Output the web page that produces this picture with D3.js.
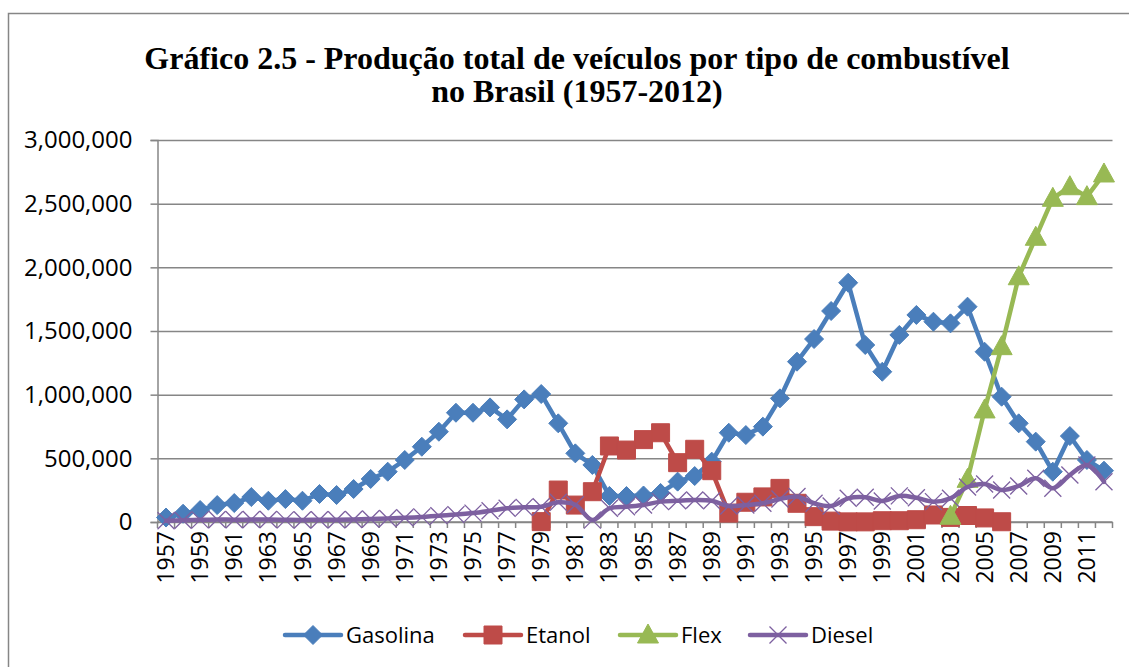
<!DOCTYPE html>
<html>
<head>
<meta charset="utf-8">
<script src="https://cdn.jsdelivr.net/npm/d3@7"></script>
<style>
  html, body { margin: 0; padding: 0; background: #ffffff; }
  svg { display: block; }
</style>
</head>
<body>
<svg id="chart" width="1129" height="667"></svg>
<script>
const years = d3.range(1957, 2013).map(String);
const tickLabels = years.filter((d, i) => i % 2 === 0);
const yTicks = [0, 500000, 1000000, 1500000, 2000000, 2500000, 3000000];
const titleLines = ["Gráfico 2.5 - Produção total de veículos por tipo de combustível", "no Brasil (1957-2012)"];
const seriesNames = ["Gasolina", "Etanol", "Flex", "Diesel"];

const gasolina = [35000, 65000, 94000, 133000, 149000, 196000, 167000, 180000, 167000, 220000,
  212000, 259000, 338000, 395000, 487000, 591000, 709000, 858000, 858000, 900000,
  806000, 963000, 1005000, 775000, 539000, 448000, 205000, 204000, 208000, 228000,
  317000, 361000, 474000, 701000, 683000, 749000, 971000, 1259000, 1437000, 1657000,
  1879000, 1390000, 1180000, 1469000, 1626000, 1573000, 1560000, 1691000, 1337000, 984000,
  775000, 631000, 395000, 675000, 487000, 403000];

const etanol = [null, null, null, null, null, null, null, null, null, null,
  null, null, null, null, null, null, null, null, null, null,
  null, null, 3000, 251000, 133000, 238000, 597000, 565000, 647000, 701000,
  466000, 571000, 403000, 70000, 155000, 197000, 264000, 147000, 42000, 7000,
  1000, 1000, 10000, 10000, 18000, 55000, 36000, 51000, 32000, 2000,
  null, null, null, null, null, null];

const flex = [null, null, null, null, null, null, null, null, null, null,
  null, null, null, null, null, null, null, null, null, null,
  null, null, null, null, null, null, null, null, null, null,
  null, null, null, null, null, null, null, null, null, null,
  null, null, null, null, null, null, 45000, 335000, 880000, 1377000,
  1926000, 2236000, 2542000, 2633000, 2555000, 2733000];

const diesel = [10000, 14000, 17000, 20000, 18000, 19000, 19000, 17000, 16000, 18000,
  18000, 20000, 24000, 28000, 33000, 40000, 50000, 58000, 70000, 88000,
  108000, 115000, 120000, 155000, 135000, 15000, 108000, 120000, 133000, 160000,
  167000, 173000, 167000, 126000, 133000, 147000, 180000, 200000, 147000, 125000,
  186000, 194000, 165000, 205000, 190000, 160000, 186000, 275000, 298000, 251000,
  283000, 343000, 265000, 369000, 448000, 316000];

const seriesValues = [gasolina, etanol, flex, diesel];
const colors = ["#4A7EBB", "#BE4B48", "#98B954", "#7D60A0"];
const markers = ["diamond", "square", "triangle", "x"];

const svg = d3.select("#chart");
const FONT = "'Open Sans', 'Noto Sans', sans-serif";

// outer frame
svg.append("path")
  .attr("d", "M8.5,1000 L8.5,13.5 L1200,13.5")
  .attr("fill", "none").attr("stroke", "#868686").attr("stroke-width", 1.5);

// title
const title = svg.append("text")
  .attr("text-anchor", "middle")
  .attr("font-family", "'Liberation Serif', 'Times New Roman', serif")
  .attr("font-weight", "bold")
  .attr("font-size", 32)
  .attr("fill", "#000");
title.selectAll("tspan").data(titleLines).join("tspan")
  .attr("x", 577)
  .attr("y", (d, i) => 69 + i * 33)
  .text(d => d);

const plotLeft = 157.5, plotRight = 1112.5, plotTop = 140, plotBottom = 522;

const x = d3.scaleBand().domain(years).range([plotLeft, plotRight]).padding(0);
const y = d3.scaleLinear().domain([0, 3000000]).range([plotBottom, plotTop]);
const cx = d => x(d) + x.bandwidth() / 2;

// gridlines + y axis
const yAxis = d3.axisLeft(y).tickValues(yTicks)
  .tickFormat(d => d === 0 ? "0" : d3.format(",")(d))
  .tickSize(7).tickPadding(18);
const gy = svg.append("g").attr("transform", `translate(${plotLeft},0)`).call(yAxis);
gy.select(".domain").attr("stroke", "#868686").attr("stroke-width", 1.5);
gy.selectAll(".tick line").attr("stroke", "#868686").attr("stroke-width", 1.5);
gy.selectAll(".tick text").attr("font-family", FONT).attr("font-size", 24).attr("fill", "#000");
gy.selectAll(".tick").append("line")
  .attr("x1", 0).attr("x2", plotRight - plotLeft)
  .attr("stroke", "#868686").attr("stroke-width", 1.5);

// x axis
const xAxis = d3.axisBottom(x).tickValues(tickLabels).tickSize(0).tickPadding(0);
const gx = svg.append("g").attr("transform", `translate(0,${plotBottom})`).call(xAxis);
gx.select(".domain").remove();
gx.selectAll(".tick text")
  .attr("font-family", FONT).attr("font-size", 23).attr("fill", "#000")
  .attr("text-anchor", "end")
  .attr("transform", "translate(0,9) rotate(-90)")
  .attr("x", 0).attr("y", 0).attr("dy", "0.35em");
svg.append("line").attr("x1", plotLeft).attr("x2", plotRight)
  .attr("y1", plotBottom).attr("y2", plotBottom)
  .attr("stroke", "#868686").attr("stroke-width", 1.5);
svg.append("g").selectAll("line").data(years.concat(["end"])).join("line")
  .attr("x1", (d, i) => plotLeft + i * x.bandwidth())
  .attr("x2", (d, i) => plotLeft + i * x.bandwidth())
  .attr("y1", plotBottom).attr("y2", plotBottom + 6)
  .attr("stroke", "#868686").attr("stroke-width", 1.5);

function markerPath(type) {
  if (type === "diamond") return "M0,-9.5 L9.5,0 L0,9.5 L-9.5,0 Z";
  if (type === "square") return "M-9,-9 L9,-9 L9,9 L-9,9 Z";
  if (type === "triangle") return "M0,-11 L10.5,8 L-10.5,8 Z";
  return "M-8.5,-8.5 L8.5,8.5 M-8.5,8.5 L8.5,-8.5";
}

function drawMarkers(g, type, color, pts) {
  g.selectAll("path.m").data(pts).join("path")
    .attr("class", "m")
    .attr("transform", d => `translate(${cx(d.year)},${y(d.v)})`)
    .attr("d", markerPath(type))
    .attr("fill", type === "x" ? "none" : color)
    .attr("stroke", color)
    .attr("stroke-width", type === "x" ? 1.3 : 1)
    .attr("stroke-linejoin", "miter");
}

seriesValues.forEach((vals, si) => {
  const pts = years.map((yr, i) => ({ year: yr, v: vals[i] })).filter(d => d.v !== null);
  const g = svg.append("g");
  const line = d3.line().x(d => cx(d.year)).y(d => y(d.v))
    .curve(si === 3 ? d3.curveCatmullRom.alpha(0.5) : d3.curveLinear);
  g.append("path").datum(pts).attr("d", line)
    .attr("fill", "none").attr("stroke", colors[si]).attr("stroke-width", 4.5)
    .attr("stroke-linejoin", "round").attr("stroke-linecap", "round");
  drawMarkers(g, markers[si], colors[si], pts);
});

// legend
const legendX = [285, 465, 620, 750];
const legendY = 635;
const lg = svg.append("g");
seriesNames.forEach((name, i) => {
  const g = lg.append("g").attr("transform", `translate(${legendX[i]},${legendY})`);
  g.append("line").attr("x1", 0).attr("x2", 56).attr("y1", 0).attr("y2", 0)
    .attr("stroke", colors[i]).attr("stroke-width", 4.5).attr("stroke-linecap", "round");
  g.append("path").attr("transform", "translate(28,0)")
    .attr("d", markerPath(markers[i]))
    .attr("fill", markers[i] === "x" ? "none" : colors[i])
    .attr("stroke", colors[i]).attr("stroke-width", markers[i] === "x" ? 1.3 : 1);
  g.append("text").attr("x", 61).attr("y", 0).attr("dy", "0.35em")
    .attr("font-family", FONT).attr("font-size", 22).attr("fill", "#000")
    .text(name);
});
</script>
</body>
</html>
